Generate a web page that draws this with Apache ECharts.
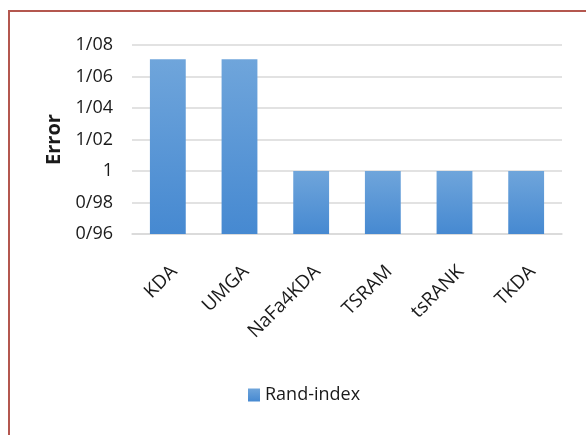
<!DOCTYPE html>
<html>
<head>
<meta charset="utf-8">
<script src="https://cdn.jsdelivr.net/npm/echarts@6/dist/echarts.min.js"></script>
<style>
html,body{margin:0;padding:0;background:#fff;}
#c{width:586px;height:435px;}
</style>
</head>
<body>
<div id="c"></div>
<script>
var categories = ['KDA', 'UMGA', 'NaFa4KDA', 'TSRAM', 'tsRANK', 'TKDA'];
var randIndex = [1.071, 1.071, 1.0, 1.0, 1.0, 1.0];
var yTickLabels = ['0/96', '0/98', '1', '1/02', '1/04', '1/06', '1/08'];
var yMin = 0.96, yMax = 1.08, yStep = 0.02;

var chart = echarts.init(document.getElementById('c'), null, {renderer: 'canvas'});
var font = "'Open Sans', 'Noto Sans', sans-serif";
chart.setOption({
  backgroundColor: '#ffffff',
  animation: false,
  graphic: [{
    type: 'rect',
    shape: {x: 9, y: 11, width: 600, height: 440},
    style: {fill: 'none', stroke: '#b4574f', lineWidth: 2},
    silent: true
  }],
  grid: {left: 132, right: 24, top: 45, bottom: 201, containLabel: false},
  legend: {
    data: ['Rand-index'],
    left: 243, top: 381,
    itemWidth: 12, itemHeight: 13, itemGap: 4,
    icon: 'rect',
    textStyle: {fontFamily: font, fontSize: 18, color: '#1a1a1a'}
  },
  xAxis: {
    type: 'category',
    data: categories,
    axisLine: {show: true, lineStyle: {color: '#d9d9d9', width: 1.5}},
    axisTick: {show: false},
    axisLabel: {rotate: 45, margin: 41, padding: [0, -9, 0, 0], fontFamily: font, fontSize: 19, color: '#1a1a1a', interval: 0}
  },
  yAxis: {
    type: 'value',
    min: yMin, max: yMax, interval: yStep,
    name: 'Error',
    nameLocation: 'middle',
    nameRotate: 90,
    nameGap: 67,
    nameTextStyle: {fontFamily: font, fontSize: 20, fontWeight: 'bold', color: '#1a1a1a'},
    axisLine: {show: false},
    axisTick: {show: false},
    splitLine: {lineStyle: {color: '#d9d9d9', width: 1.5}},
    axisLabel: {
      margin: 19, fontFamily: font, fontSize: 18, color: '#1a1a1a',
      formatter: function (v) {
        var i = Math.round((v - yMin) / yStep);
        return yTickLabels[i];
      }
    }
  },
  series: [{
    name: 'Rand-index',
    type: 'bar',
    data: randIndex,
    barWidth: '50%',
    itemStyle: {
      color: new echarts.graphic.LinearGradient(0, 0, 0, 1, [
        {offset: 0, color: '#6fa5db'},
        {offset: 1, color: '#4689d1'}
      ])
    }
  }]
});
</script>
</body>
</html>
